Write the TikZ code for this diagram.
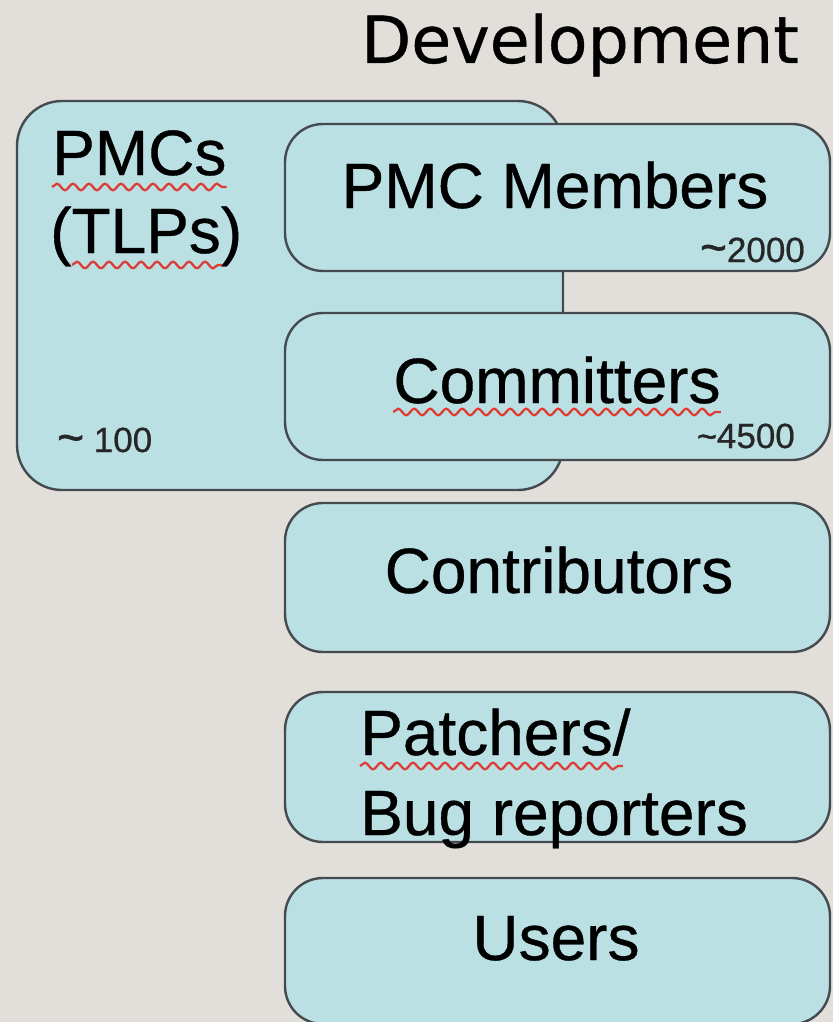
\documentclass[tikz,border=0pt]{standalone}
\usepackage{fontspec}
\setmainfont[FakeBold=0.6,AutoFakeBold=0.6]{Liberation Sans}
\newfontfamily\devfont[FakeBold=0.6,AutoFakeBold=0.6]{DejaVu Sans}
\newfontfamily\tildefont[FakeBold=1.5,AutoFakeBold=1.5]{Liberation Sans}
\usetikzlibrary{decorations.pathmorphing}
\definecolor{bg}{RGB}{226,223,218}
\definecolor{boxfill}{RGB}{186,224,228}
\definecolor{boxline}{RGB}{68,74,78}
\definecolor{squig}{RGB}{222,60,55}
\newcommand{\bigtilde}[1]{{\tildefont\fontsize{#1}{#1}\selectfont\textasciitilde}}
\tikzset{
  box/.style={draw=boxline, fill=boxfill, line width=2.4pt, rectangle, rounded corners=38pt, inner sep=0pt},
  bigtxt/.style={font=\fontsize{64}{76}\selectfont, inner sep=0pt, text=black},
  smalltxt/.style={font=\fontsize{35}{40}\selectfont, inner sep=0pt, text=black!85},
  spell/.style={draw=squig, line width=2.3pt, decorate, decoration={snake, segment length=16pt, amplitude=3.3pt}}
}
\begin{document}
\begin{tikzpicture}[x=1pt,y=-1pt]
\useasboundingbox (0,0) rectangle (833,1022);
\clip (0,0) rectangle (833,1022);
\fill[bg] (0,0) rectangle (833,1022);

\node[anchor=base, inner sep=0pt, font=\devfont\fontsize{65}{70}\selectfont] (dev) at (580,63) {Development};

\node[box, rounded corners=45pt, minimum width=546pt, minimum height=389pt] (pmcs) at (290,295.5) {};
\node[box, minimum width=545pt, minimum height=147pt] (members) at (557.5,197.5) {};
\node[box, minimum width=545pt, minimum height=147pt] (committers) at (557.5,386.5) {};
\node[box, minimum width=545pt, minimum height=149pt] (contrib) at (557.5,577.5) {};
\node[box, minimum width=545pt, minimum height=150pt] (patchers) at (557.5,767) {};
\node[box, minimum width=545pt, minimum height=146pt] (users) at (557.5,951) {};

\node[bigtxt, anchor=base west] (pmcst) at (52,175) {PMCs};
\node[bigtxt, anchor=base west] (tlps) at (50,253) {(TLPs)};
\node[smalltxt, anchor=base west] (n100) at (57,452) {\raisebox{-1pt}{\bigtilde{46}}\ 100};

\node[bigtxt, anchor=base] (memt) at (555,208) {PMC Members};
\node[smalltxt, anchor=base east] (n2000) at (805,262) {\raisebox{-1pt}{\bigtilde{46}}2000};

\node[bigtxt, anchor=base] (comt) at (557,403) {Committers};
\node[smalltxt, anchor=base east] (n4500) at (795,448) {\bigtilde{34}4500};

\node[bigtxt, anchor=base] (cont) at (559,593) {Contributors};

\node[bigtxt, anchor=base west] (patt) at (360,755) {Patchers/};
\node[bigtxt, anchor=base west] (bugt) at (360,835) {Bug reporters};

\node[bigtxt, anchor=base] (usert) at (556,960) {Users};

% spell-check underlines
\draw[spell] ([yshift=-12pt]pmcst.base west) -- ([yshift=-12pt]pmcst.base east);
\draw[spell] ([xshift=22pt,yshift=-12pt]tlps.base west) -- ([xshift=-20pt,yshift=-12pt]tlps.base east);
\draw[spell] ([yshift=-9pt]comt.base west) -- ([yshift=-9pt]comt.base east);
\draw[spell] ([yshift=-11pt]patt.base west) -- ([xshift=-8pt,yshift=-11pt]patt.base east);
\end{tikzpicture}
\end{document}
